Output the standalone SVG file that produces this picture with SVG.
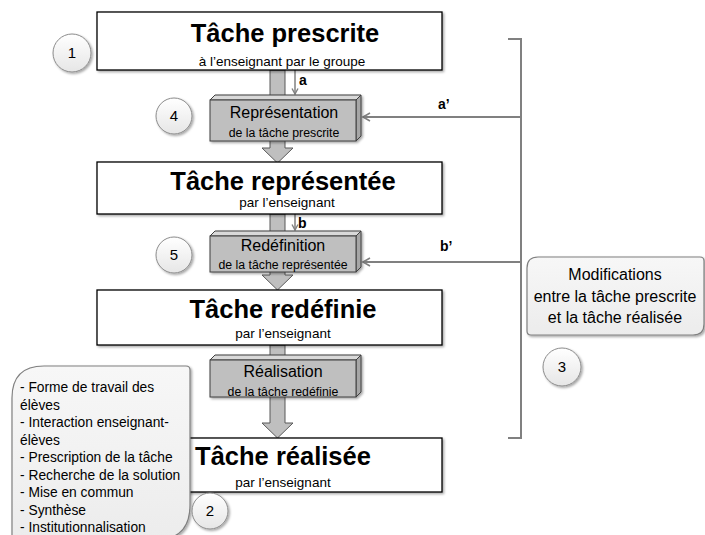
<svg xmlns="http://www.w3.org/2000/svg" width="705" height="535" viewBox="0 0 705 535">
<defs>
<style>
text{font-family:"Liberation Sans",Arial,sans-serif;fill:#000}
.title{font-size:25.5px;font-weight:bold;text-anchor:middle}
.sub{font-size:13.5px;text-anchor:middle}
.bm{font-size:16px;text-anchor:middle}
.bs{font-size:12.3px;text-anchor:middle}
.lbl{font-size:14px;font-weight:bold}
.num{font-size:15px;text-anchor:middle}
.co{font-size:13.8px}
.co3{font-size:16px;text-anchor:middle}
.box{fill:#fff;stroke:#000;stroke-width:1.3}
.front{fill:#bfbfbf;stroke:#3f3f3f;stroke-width:1}
.top{fill:#d9d9d9;stroke:#3f3f3f;stroke-width:1}
.side{fill:#a6a6a6;stroke:#3f3f3f;stroke-width:1}
.blk{fill:#bfbfbf;stroke:#595959;stroke-width:1}
.thin{stroke:#808080;stroke-width:1.5;fill:none}
.conn{stroke:#808080;stroke-width:2;fill:none}
.circ{fill:url(#cg);stroke:#8c8c8c;stroke-width:1}
.call{fill:url(#callg);stroke:#808080;stroke-width:1.2}
</style>
<linearGradient id="cg" x1="0" y1="0" x2="0" y2="1"><stop offset="0" stop-color="#ffffff"/><stop offset="1" stop-color="#e6e6e6"/></linearGradient>
<linearGradient id="callg" x1="0" y1="0" x2="0" y2="1"><stop offset="0" stop-color="#f7f7f7"/><stop offset="1" stop-color="#ececec"/></linearGradient>
<filter id="sh" x="-20%" y="-20%" width="150%" height="150%"><feDropShadow dx="1.5" dy="1.5" stdDeviation="1.2" flood-color="#000" flood-opacity="0.35"/></filter>
<marker id="ah" markerWidth="10" markerHeight="10" refX="8" refY="5" orient="auto" markerUnits="userSpaceOnUse"><path d="M1,1 L8,5 L1,9" fill="none" stroke="#808080" stroke-width="1.6"/></marker>
<marker id="ahs" markerWidth="8" markerHeight="8" refX="6.5" refY="4" orient="auto" markerUnits="userSpaceOnUse"><path d="M1,1 L6.5,4 L1,7" fill="none" stroke="#808080" stroke-width="1.4"/></marker>
</defs>

<g id="connectors">
<polygon class="blk" points="270,70 285,70 285,148 293,148 277.5,163 262,148 270,148"/>
<polygon class="blk" points="270,214 285,214 285,275 293,275 277.5,290 262,275 270,275"/>
<polygon class="blk" points="270,345 285,345 285,423 293,423 277.5,438 262,423 270,423"/>
<line class="thin" x1="295" y1="70" x2="295" y2="94" marker-end="url(#ahs)"/>
<line class="thin" x1="295" y1="214" x2="295" y2="230" marker-end="url(#ahs)"/>
<path class="conn" d="M508,39 H521 V438 H508" stroke-width="2.5"/>
<line class="conn" x1="521" y1="117" x2="363" y2="117" marker-end="url(#ah)"/>
<line class="conn" x1="521" y1="262" x2="363" y2="262" marker-end="url(#ah)"/>
<text class="lbl" x="299" y="85">a</text>
<text class="lbl" x="298" y="228">b</text>
<text class="lbl" x="438" y="109">a’</text>
<text class="lbl" x="440" y="251">b’</text>
</g>

<g id="n1" filter="url(#sh)">
<rect class="box" x="97" y="12" width="345" height="58"/>
</g>
<g id="n1t">
<text class="title" x="285" y="42">Tâche prescrite </text>
<text class="sub" x="282" y="66">à l’enseignant par le groupe</text>
</g>

<g id="n4" filter="url(#sh)">
<polygon class="top" points="210,100 215,95 361,95 356,100"/>
<polygon class="side" points="356,100 361,95 361,136 356,141"/>
<rect class="front" x="210" y="100" width="146" height="41"/>
</g>
<g id="n4t">
<text class="bm" x="284" y="118">Représentation</text>
<text class="bs" x="284" y="137">de la tâche prescrite</text>
</g>

<g id="n2" filter="url(#sh)">
<rect class="box" x="97" y="162" width="345" height="52"/>
</g>
<g id="n2t">
<text class="title" x="283" y="190">Tâche représentée</text>
<text class="sub" x="287" y="207">par l’enseignant </text>
</g>

<g id="n5" filter="url(#sh)">
<polygon class="top" points="210,236 215,231 361,231 356,236"/>
<polygon class="side" points="356,236 361,231 361,267 356,272"/>
<rect class="front" x="210" y="236" width="146" height="36"/>
</g>
<g id="n5t">
<text class="bm" x="283" y="251">Redéfinition</text>
<text class="bs" x="283" y="269">de la tâche représentée</text>
</g>

<g id="n3" filter="url(#sh)">
<rect class="box" x="97" y="290" width="345" height="55"/>
</g>
<g id="n3t">
<text class="title" x="283" y="318">Tâche redéfinie</text>
<text class="sub" x="283" y="338">par l’enseignant</text>
</g>

<g id="n6" filter="url(#sh)">
<polygon class="top" points="210,360 215,355 361,355 356,360"/>
<polygon class="side" points="356,360 361,355 361,392 356,397"/>
<rect class="front" x="210" y="360" width="146" height="37"/>
</g>
<g id="n6t">
<text class="bm" x="283" y="377">Réalisation</text>
<text class="bs" x="283" y="396">de la tâche redéfinie</text>
</g>

<g id="n7" filter="url(#sh)">
<rect class="box" x="97" y="438" width="345" height="54"/>
</g>
<g id="n7t">
<text class="title" x="283" y="465">Tâche réalisée</text>
<text class="sub" x="283" y="487">par l’enseignant</text>
</g>

<g id="callout2">
<path class="call" filter="url(#sh)" d="M12,545 V398 Q12,366 44,366 H186 Q190,366 190,370 V505 Q190,540 155,540 H12 Z"/>
<text class="co" x="20" y="392">- Forme de travail des </text>
<text class="co" x="20" y="409.5">élèves</text>
<text class="co" x="20" y="427">- Interaction enseignant-</text>
<text class="co" x="20" y="444.5">élèves</text>
<text class="co" x="20" y="462">- Prescription de la tâche</text>
<text class="co" x="20" y="479.5">- Recherche de la solution</text>
<text class="co" x="20" y="497">- Mise en commun</text>
<text class="co" x="20" y="514.5">- Synthèse</text>
<text class="co" x="20" y="531.5">- Institutionnalisation</text>
</g>

<g id="callout3">
<path class="call" filter="url(#sh)" d="M538,257 H700 Q704,257 704,261 V324 Q704,335 693,335 H531 Q527,335 527,331 V268 Q527,257 538,257 Z"/>
<text class="co3" x="615" y="280">Modifications </text>
<text class="co3" x="615" y="302">entre la tâche prescrite </text>
<text class="co3" x="615" y="323">et la tâche réalisée</text>
</g>

<g id="c1"><circle class="circ" filter="url(#sh)" cx="72" cy="53" r="19"/><text class="num" x="72" y="58">1</text></g>
<g id="c4"><circle class="circ" filter="url(#sh)" cx="174" cy="116" r="18"/><text class="num" x="174" y="121">4</text></g>
<g id="c5"><circle class="circ" filter="url(#sh)" cx="174" cy="255" r="18"/><text class="num" x="174" y="260">5</text></g>
<g id="c2"><circle class="circ" filter="url(#sh)" cx="210" cy="511" r="18"/><text class="num" x="210" y="516">2</text></g>
<g id="c3"><circle class="circ" filter="url(#sh)" cx="562" cy="367" r="19"/><text class="num" x="562" y="372">3</text></g>
</svg>
